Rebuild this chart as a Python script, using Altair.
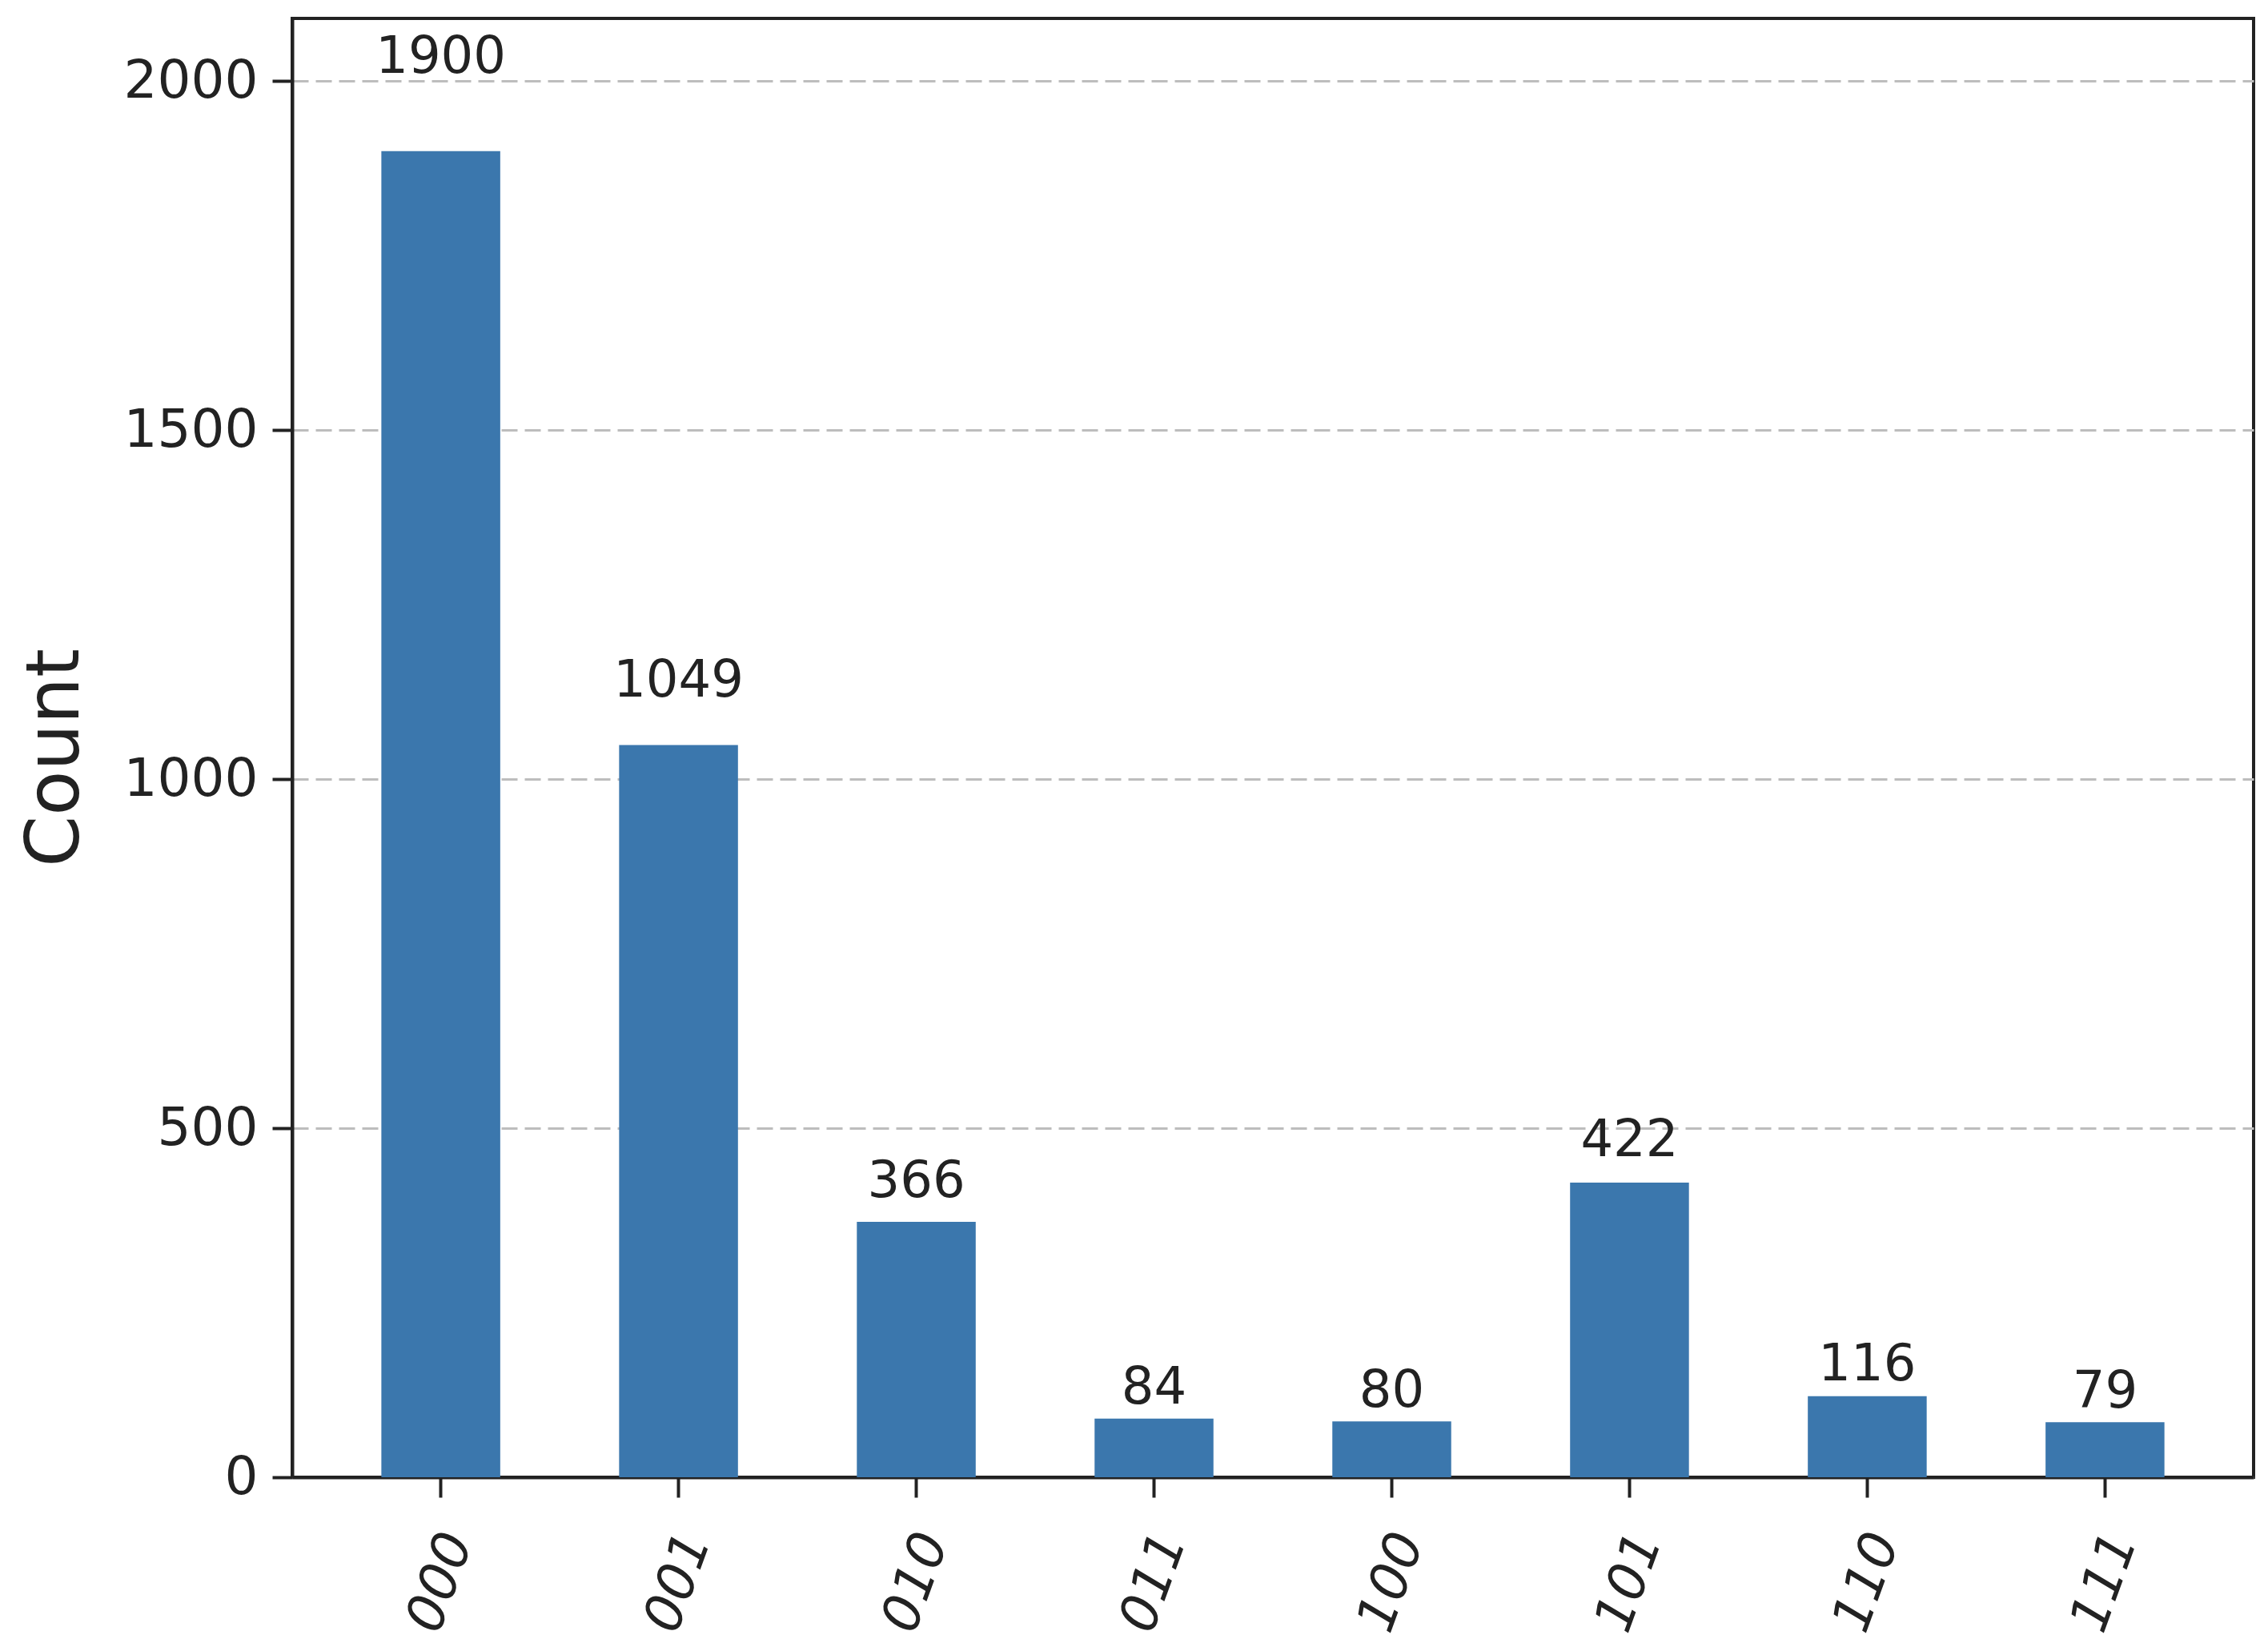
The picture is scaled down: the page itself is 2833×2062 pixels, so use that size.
import altair as alt
import pandas as pd

# measured outcomes and their counts
states = ["000", "001", "010", "011", "100", "101", "110", "111"]
counts = [1900, 1049, 366, 84, 80, 422, 116, 79]
y_ticks = [0, 500, 1000, 1500, 2000]

data = pd.DataFrame({"State": states, "Count": counts})

FONT = "DejaVu Sans"
INK = "#222222"

x_enc = alt.X(
    "State:N",
    sort=states,
    title=None,
    scale=alt.Scale(paddingInner=0.5, paddingOuter=0.375),
    axis=alt.Axis(
        labelAngle=290,
        labelAlign="center",
        labelBaseline="middle",
        labelPadding=106,
        labelFontStyle="italic",
        labelFontSize=66,
        grid=False,
    ),
)

bars = alt.Chart(data).mark_bar(color="#3b77ad").encode(
    x=x_enc,
    y=alt.Y(
        "Count:Q",
        title="Count",
        scale=alt.Scale(domain=[0, 2090], nice=False),
        axis=alt.Axis(
            values=y_ticks,
            format="d",
            labelFontSize=66,
            labelPadding=18,
            titleFontSize=92,
            titleFontWeight="normal",
            titleAngle=270,
            titleAlign="center",
            titleBaseline="alphabetic",
            titleX=-268,
            titleY=923,
            grid=True,
            gridColor="#bdbdbd",
            gridDash=[20, 9],
            gridWidth=3,
            minExtent=357,
            maxExtent=357,
        ),
    ),
)

labels = alt.Chart(data).transform_calculate(
    label_y="datum.Count * 1.05"
).mark_text(
    font=FONT, fontSize=64, color=INK, baseline="alphabetic", dy=-15
).encode(
    x=alt.X("State:N", sort=states),
    y=alt.Y("label_y:Q"),
    text=alt.Text("Count:Q", format="d"),
)

chart = alt.layer(bars, labels).properties(
    width=2450,
    height=1822,
    padding={"left": 0, "top": 15, "right": 10, "bottom": 10},
).configure_view(
    stroke=INK,
    strokeWidth=4,
).configure_axis(
    labelFont=FONT,
    titleFont=FONT,
    labelColor=INK,
    titleColor=INK,
    domainColor=INK,
    domainWidth=4,
    tickColor=INK,
    tickWidth=4,
    tickSize=25,
)

chart.save("out.html", embed_options={"renderer": "svg", "actions": False})
